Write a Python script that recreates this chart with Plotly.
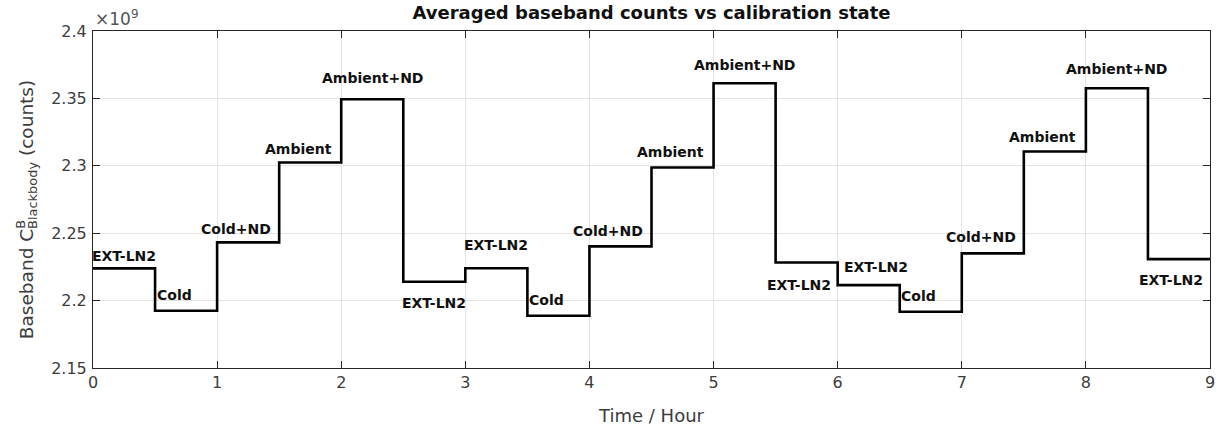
import plotly.graph_objects as go

# Calibration cycle: each state held for half an hour
seg_start_hr = [0.0, 0.5, 1.0, 1.5, 2.0, 2.5, 3.0, 3.5, 4.0, 4.5,
                5.0, 5.5, 6.0, 6.5, 7.0, 7.5, 8.0, 8.5]
seg_end_hr = 9.0
states = ["EXT-LN2", "Cold", "Cold+ND", "Ambient", "Ambient+ND", "EXT-LN2",
          "EXT-LN2", "Cold", "Cold+ND", "Ambient", "Ambient+ND", "EXT-LN2",
          "EXT-LN2", "Cold", "Cold+ND", "Ambient", "Ambient+ND", "EXT-LN2"]
counts = [2.2239e9, 2.1925e9, 2.2432e9, 2.3025e9, 2.3494e9, 2.2140e9,
          2.2240e9, 2.1888e9, 2.2402e9, 2.2987e9, 2.3612e9, 2.2283e9,
          2.2115e9, 2.1917e9, 2.2350e9, 2.3106e9, 2.3575e9, 2.2308e9]

y_tickvals = [2.15e9, 2.2e9, 2.25e9, 2.3e9, 2.35e9, 2.4e9]
y_ticktext = ["2.15", "2.2", "2.25", "2.3", "2.35", "2.4"]
x_tickvals = list(range(10))

# Label placement (style): side of the step and gap in px between text and line
label_side = ["above", "above", "above", "above", "above", "below",
              "above", "above", "above", "above", "above", "below",
              "above", "above", "above", "above", "above", "below"]
label_gap = [7, 10, 8, 8, 16, 15, 18, 10, 10, 10, 13, 17, 13, 10, 11, 9, 14, 15]

FONT = "DejaVu Sans, Verdana, sans-serif"
AX = "#262626"
TICK_TXT = "#3c3c3c"

fig = go.Figure()
fig.add_trace(go.Scatter(
    x=seg_start_hr + [seg_end_hr],
    y=counts + [counts[-1]],
    mode="lines",
    line=dict(color="black", width=2.6, shape="hv"),
    hoverinfo="skip",
    showlegend=False,
))

# State labels centred on each segment, nudged away from adjacent risers
n = len(states)
for i, (s, c, side, gap) in enumerate(zip(states, counts, label_side, label_gap)):
    mid = seg_start_hr[i] + 0.25
    nxt = counts[i + 1] if i + 1 < n else None
    prv = counts[i - 1] if i > 0 else None
    if side == "above":
        if nxt is not None and nxt > c:
            dx = -12
        elif prv is not None and prv > c:
            dx = 7
        else:
            dx = 0
        fig.add_annotation(x=mid, y=c, text=f"<b>{s}</b>", showarrow=False,
                           xanchor="center", yanchor="bottom", xshift=dx,
                           yshift=gap - 4.5,
                           font=dict(family=FONT, size=14, color="#111"))
    else:
        dx = -8 if (nxt is None or nxt < c) else 0
        fig.add_annotation(x=mid, y=c, text=f"<b>{s}</b>", showarrow=False,
                           xanchor="center", yanchor="top", xshift=dx,
                           yshift=-(gap - 4),
                           font=dict(family=FONT, size=14, color="#111"))

# Plot area margins in pixels
L, R, T, B = 93, 10, 31, 64
W, H = 1225, 433

# Axis exponent
fig.add_annotation(xref="paper", yref="paper", x=0, y=1, xanchor="left", yanchor="bottom",
                   showarrow=False,
                   text="×10<sup>9</sup>", font=dict(family=FONT, size=17, color="#555"))

# Y title: C with superscript B stacked over subscript "Blackbody";
# trailing letter-spacing after ")" nudges the centred title downward
y_title = ("Baseband C<sup><span style='letter-spacing:-9px'>B</span></sup>"
           "<sub>Blackbody</sub> (counts<span style='letter-spacing:20px'>)</span>")

axis_common = dict(
    showline=True, linecolor=AX, linewidth=1, mirror="allticks",
    ticks="inside", ticklen=7, tickwidth=1, tickcolor=AX,
    showgrid=True, gridcolor="#e3e3e3", gridwidth=1,
    zeroline=False,
    tickfont=dict(family=FONT, size=16, color=TICK_TXT),
)

fig.update_layout(
    width=W, height=H,
    margin=dict(l=L, r=R, t=T, b=B),
    paper_bgcolor="white", plot_bgcolor="white",
    title=dict(text="<b>Averaged baseband counts vs calibration state</b>",
               x=0.5, xref="paper", y=1 - 13 / H, yref="container",
               xanchor="center", yanchor="middle",
               font=dict(family=FONT, size=18, color="#111")),
    xaxis=dict(range=[0, 9], tickvals=x_tickvals,
               title=dict(text="Time / Hour", standoff=18,
                          font=dict(family=FONT, size=18, color=TICK_TXT)),
               **axis_common),
    yaxis=dict(range=[2.15e9, 2.4e9], tickvals=y_tickvals, ticktext=y_ticktext,
               ticklabelstandoff=2,
               title=dict(text=y_title, standoff=12,
                          font=dict(family=FONT, size=18.5, color=TICK_TXT)),
               **axis_common),
)

fig.write_html("out.html")
